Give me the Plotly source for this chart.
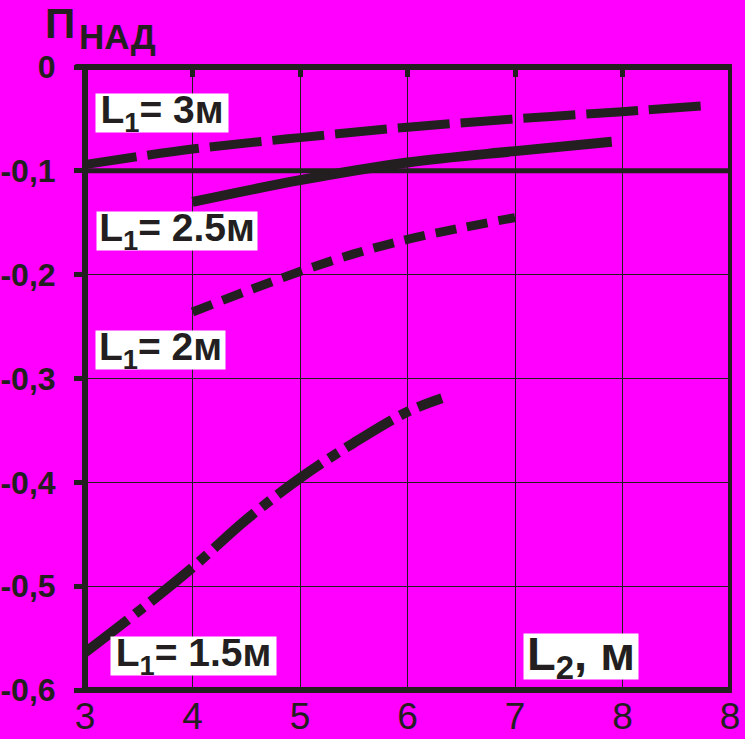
import plotly.graph_objects as go

# ---- data ----
x_l3 = [3, 4, 5, 6, 7, 8, 8.8]
y_l3 = [-0.094, -0.079, -0.068, -0.058, -0.050, -0.043, -0.037]

x_l25 = [4, 5, 6, 7, 7.9]
y_l25 = [-0.130, -0.109, -0.092, -0.081, -0.072]

x_l2 = [4, 4.5, 5, 5.5, 6, 6.5, 7]
y_l2 = [-0.236, -0.216, -0.197, -0.180, -0.166, -0.155, -0.145]

x_l15 = [3, 3.5, 4, 4.5, 5, 5.5, 6, 6.32]
y_l15 = [-0.564, -0.524, -0.482, -0.436, -0.396, -0.362, -0.332, -0.319]

x_tickvals = [3, 4, 5, 6, 7, 8, 9]
x_ticktext = ["3", "4", "5", "6", "7", "8", "8"]
y_tickvals = [0, -0.1, -0.2, -0.3, -0.4, -0.5, -0.6]
y_ticktext = ["0", "-0,1", "-0,2", "-0,3", "-0,4", "-0,5", "-0,6"]

label_texts = ["L<sub>1</sub>= 3м", "L<sub>1</sub>= 2.5м", "L<sub>1</sub>= 2м", "L<sub>1</sub>= 1.5м"]
x_title = "L<sub>2</sub>, м"

# ---- style ----
INK = "#231f20"
BG = "#ff00ff"
W, H = 745, 739
ML, MR, MT, MB = 85, 15, 67, 49
PW, PH = W - ML - MR, H - MT - MB

def pxx(px):
    return (px - ML) / PW

def pxy(py):
    return (H - MB - py) / PH

fig = go.Figure()

fig.add_trace(go.Scatter(x=x_l3, y=y_l3, mode="lines", line=dict(color=INK, width=9, dash="52px,11px", shape="spline"),
                         showlegend=False, hoverinfo="skip"))
fig.add_trace(go.Scatter(x=x_l25, y=y_l25, mode="lines", line=dict(color=INK, width=10, shape="spline"),
                         showlegend=False, hoverinfo="skip"))
fig.add_trace(go.Scatter(x=x_l2, y=y_l2, mode="lines", line=dict(color=INK, width=9, dash="21px,11px", shape="spline"),
                         showlegend=False, hoverinfo="skip"))
fig.add_trace(go.Scatter(x=x_l15, y=y_l15, mode="lines", line=dict(color=INK, width=10, dash="54px,9px,11px,9px", shape="spline"),
                         showlegend=False, hoverinfo="skip"))
# helper trace for the top axis (inward ticks)
fig.add_trace(go.Scatter(x=[3, 9], y=[None, None], xaxis="x2", mode="lines", showlegend=False, hoverinfo="skip"))

fig.update_layout(
    width=W, height=H,
    margin=dict(l=ML, r=MR, t=MT, b=MB, pad=0),
    paper_bgcolor=BG, plot_bgcolor=BG,
    xaxis=dict(range=[3, 9], tickvals=x_tickvals, ticktext=x_ticktext, showgrid=True, gridcolor=INK, gridwidth=1,
               zeroline=False, showline=False, ticks="", ticklabelstandoff=1, automargin=False,
               tickfont=dict(family="Liberation Sans", size=37, color=INK)),
    xaxis2=dict(range=[3, 9], overlaying="x", side="top", anchor="y", tickvals=[4, 5, 6, 7, 8],
                ticks="inside", ticklen=10, tickwidth=5, tickcolor=INK, showticklabels=False, automargin=False,
                showgrid=False, zeroline=False, showline=False),
    yaxis=dict(range=[-0.6, 0], tickvals=y_tickvals, ticktext=y_ticktext, showgrid=True, gridcolor=INK, gridwidth=1,
               zeroline=False, showline=False, ticks="outside", ticklen=10, tickwidth=5, tickcolor=INK,
               ticklabelstandoff=12, automargin=False,
               tickfont=dict(family="Liberation Sans", size=32, color=INK, weight="bold")),
)

# thick -0.1 reference line
fig.add_shape(type="line", xref="paper", yref="y", x0=0, x1=1, y0=-0.1, y1=-0.1,
              line=dict(color=INK, width=5), layer="below")
# frame
fig.add_shape(type="line", xref="paper", yref="paper", x0=0, x1=0, y0=-0.005, y1=1.005, line=dict(color=INK, width=6))
fig.add_shape(type="line", xref="paper", yref="paper", x0=-0.005, x1=1.003, y0=0, y1=0, line=dict(color=INK, width=6))
fig.add_shape(type="line", xref="paper", yref="paper", x0=-0.015, x1=1.003, y0=1, y1=1, line=dict(color=INK, width=6))
fig.add_shape(type="line", xref="paper", yref="paper", x0=1, x1=1, y0=0, y1=1, line=dict(color=INK, width=4))

# white-boxed curve labels: (text, box left, top, right, bottom, size)
boxes = [
    (label_texts[0], 96, 94, 228, 132, 39),
    (label_texts[1], 97, 212, 257, 250, 39),
    (label_texts[2], 96, 331, 225, 369, 39),
    (label_texts[3], 111, 637, 276, 675, 39),
    (x_title, 524, 634, 638, 679, 47),
]
for t, l, tp, r, b, s in boxes:
    fig.add_annotation(xref="paper", yref="paper", x=pxx((l + r) / 2), y=pxy((tp + b) / 2),
                       xanchor="center", yanchor="middle", width=r - l, height=b - tp,
                       text=t, showarrow=False, bgcolor="white", borderpad=0,
                       font=dict(family="Liberation Sans", size=s, color=INK, weight="bold"))

# y-axis title "П" with subscript "НАД"
fig.add_annotation(xref="paper", yref="paper", x=pxx(60), y=pxy(24), xanchor="center", yanchor="middle",
                   text="П", showarrow=False, font=dict(family="Liberation Sans", size=42, color=INK, weight="bold"))
fig.add_annotation(xref="paper", yref="paper", x=pxx(117.5), y=pxy(36), xanchor="center", yanchor="middle",
                   text="НАД", showarrow=False, font=dict(family="Liberation Sans", size=35, color=INK, weight="bold"))

fig.write_html("out.html", config={"displayModeBar": False},
               post_script="document.body.style.margin='0';document.body.style.overflow='hidden';")
